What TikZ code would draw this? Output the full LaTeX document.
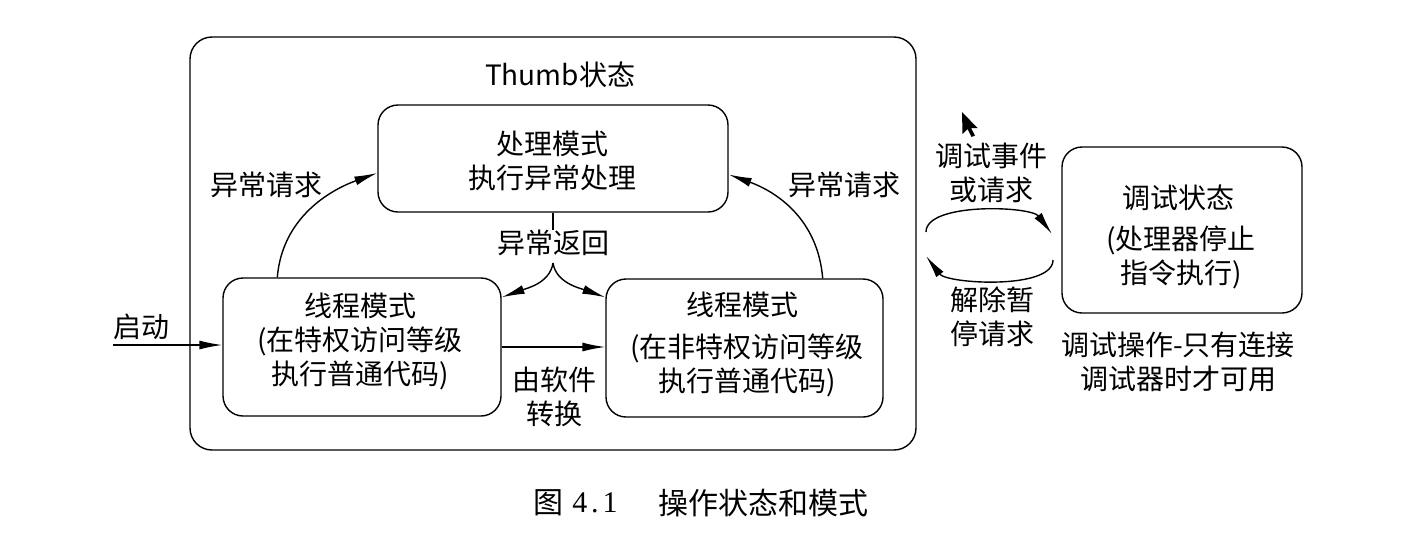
\documentclass[tikz,border=0pt]{standalone}
\usepackage{fontspec}
\newfontfamily\cjk{Noto Sans CJK SC}
\newfontfamily\numserif{Liberation Serif}
\usetikzlibrary{arrows.meta}
\begin{document}
\begin{tikzpicture}[x=1pt,y=-1pt,
  box/.style={draw, line width=1.4pt, rounded corners=20pt, inner sep=0pt},
  txt/.style={font=\cjk\fontsize{28}{34}\selectfont, align=center, inner sep=0pt},
  captxt/.style={font=\cjk\fontsize{30}{36}\selectfont, inner sep=0pt},
  conn/.style={line width=1.4pt, -{Latex[length=23pt,width=9pt]}},
  plainline/.style={line width=1.4pt}
  ]
\useasboundingbox[fill=white] (0,0) rectangle (1423,542);

% boxes
\node[box, rounded corners=22pt, minimum width=726pt, minimum height=413pt] (thumb) at (553,243.5) {};
\node[box, minimum width=350pt, minimum height=107pt] (pm) at (553,158.5) {};
\node[box, minimum width=278pt, minimum height=138pt] (lt) at (362,347) {};
\node[box, minimum width=277pt, minimum height=138pt] (rt) at (744.5,348) {};
\node[box, minimum width=240pt, minimum height=166pt] (dbg) at (1182,230) {};

% texts
\node[txt] (thumbt) at (560,75) {Thumb状态};
\node[txt] (pmt) at (552,161) {处理模式\\执行异常处理};
\node[txt] (ltt) at (360,341) {线程模式\\(在特权访问等级\\执行普通代码)};
\node[txt] (rtt1) at (742,305) {线程模式};
\node[txt] (rtt2) at (747,365) {(在非特权访问等级\\执行普通代码)};
\node[txt] (dbgt1) at (1178,198) {调试状态};
\node[txt] (dbgt2) at (1181,257) {(处理器停止\\指令执行)};

\node[txt] (reqL) at (266,185) {异常请求};
\node[txt] (reqR) at (844,185) {异常请求};
\node[txt] (ret) at (553,243) {异常返回};
\node[txt] (boot) at (141,327) {启动};
\node[txt] (sw) at (554,397) {由软件\\转换};
\node[txt] (dbgev) at (991,173) {调试事件\\或请求};
\node[txt] (unhalt) at (992,317) {解除暂\\停请求};
\node[txt] (dbgnote) at (1178,362) {调试操作-只有连接\\调试器时才可用};

% caption
\node[captxt] (fig) at (548,503) {图};
\node[font=\numserif\fontsize{30}{36}\selectfont, inner sep=0pt] (fignum) at (595,503) {4\hspace{4pt}.\hspace{4pt}1};
\node[captxt] (figt) at (763,503) {操作状态和模式};

% connectors
\draw[conn] ([xshift=55pt]lt.north west) .. controls +(5,-60) and +(-47,17) .. ([yshift=-14.5pt]pm.west);
\draw[conn] ([xshift=-61pt]rt.north east) .. controls +(-5,-60) and +(47,17) .. ([yshift=-16pt]pm.east);

\draw[plainline] (pm.south) -- (ret.north);
\coordinate (cusp) at (553,263);
\draw[conn] (cusp) .. controls +(-3,20) and +(25,-9) .. ([yshift=-20pt]lt.north east);
\draw[conn] (cusp) .. controls +(3,20) and +(-25,-9) .. ([yshift=-19pt]rt.north west);

\draw[conn] (lt.east) -- (lt.east -| rt.west);
\coordinate (start) at (113,345);
\draw[conn] (start) -- (start -| lt.west);

\coordinate (da1) at (926,232);
\coordinate (da2) at (1052,234);
\draw[conn] (da1) .. controls +(0,-30) and +(-21,-28) .. (da2);
\coordinate (db1) at (1053,260);
\coordinate (db2) at (926,256);
\draw[conn] (db1) .. controls +(0,30) and +(21,28) .. (db2);

% mouse pointer
\fill (962,112) -- (962.5,134) -- (967.5,129) -- (971.5,137) -- (975,135.5) -- (971,128) -- (977.5,128) -- cycle;
\end{tikzpicture}
\end{document}
